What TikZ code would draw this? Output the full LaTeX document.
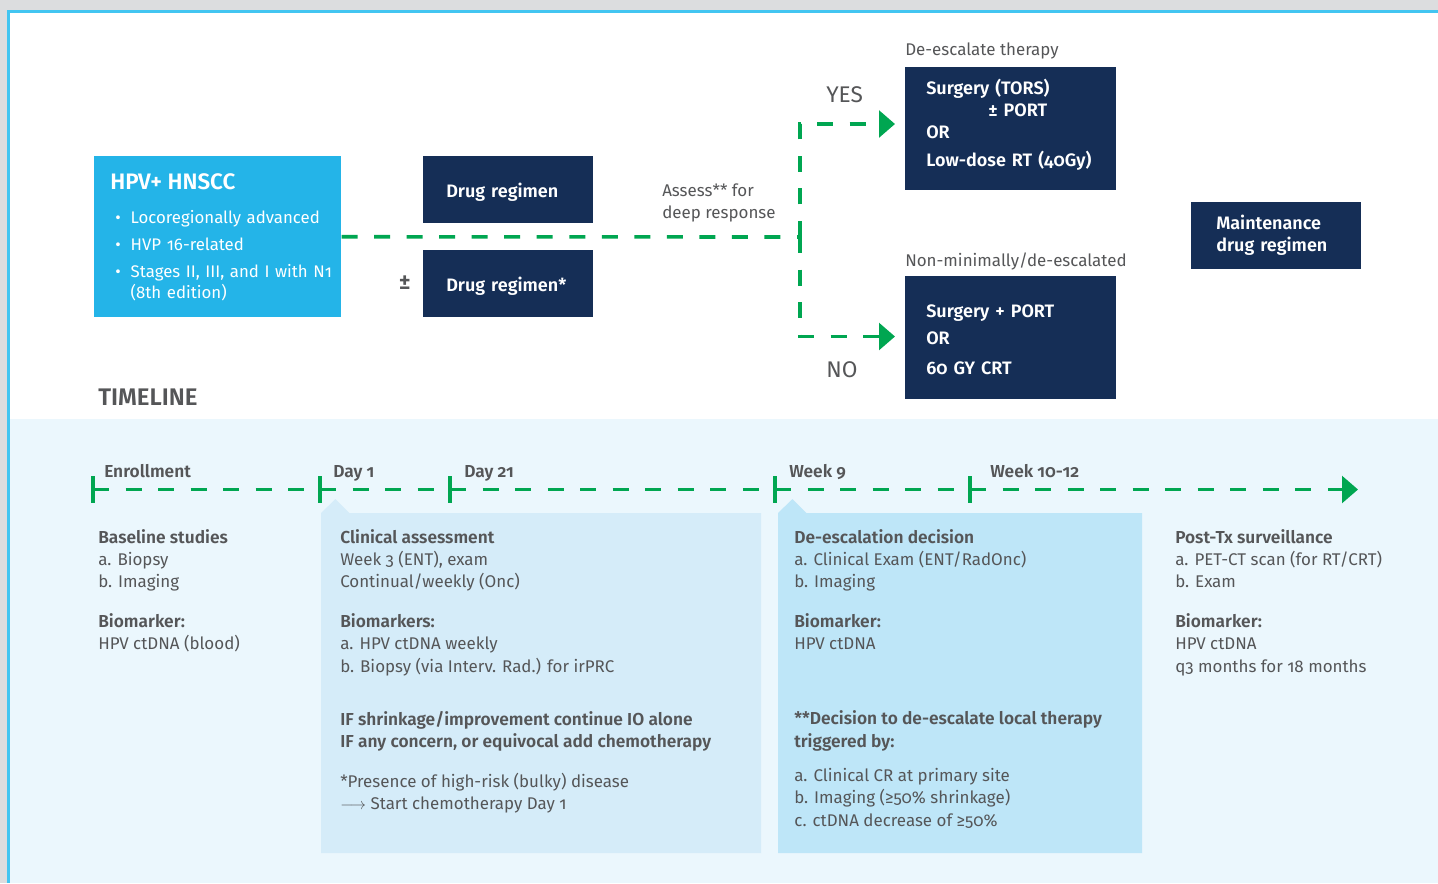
\documentclass[tikz,border=0pt]{standalone}
\usepackage{fontspec}
\setmainfont{Fira Sans}[Numbers=OldStyle, BoldFont={Fira Sans SemiBold}]
\usepackage{tikz}
\usetikzlibrary{arrows.meta,positioning}
\usepackage{xcolor}
\definecolor{hngray}{RGB}{220,221,223}
\definecolor{hnborder}{RGB}{66,197,241}
\definecolor{hncyan}{RGB}{36,180,232}
\definecolor{hnnavy}{RGB}{21,46,86}
\definecolor{hngreen}{RGB}{0,166,81}
\definecolor{hntext}{RGB}{85,86,88}
\definecolor{hnband}{RGB}{235,247,253}
\definecolor{hnpanel}{RGB}{213,236,249}
\definecolor{hnpanelb}{RGB}{190,230,248}
\newcommand{\bodysize}{\fontsize{12.7}{16.7}\selectfont}
\newcommand{\hd}[1]{{\fontsize{13}{16.7}\selectfont\bfseries #1}}
\tikzstyle{flow} = [line width=2.7pt, dash pattern=on 12pt off 12.4pt, color=hngreen]
\tikzstyle{arrow} = [flow, -{Triangle[length=12pt,width=20pt]}]
\tikzstyle{tickbar} = [line width=3pt, color=hngreen]
\tikzstyle{regimen} = [rectangle, anchor=north west, fill=hnnavy, text=white, font=\bfseries\fontsize{13.5}{16.5}\selectfont, align=left, inner ysep=0pt]
\tikzstyle{note} = [anchor=base west, inner sep=0pt, text=hntext, font=\bodysize]

\begin{document}
\begin{tikzpicture}[x=0.75pt, y=-0.75pt]
\useasboundingbox (0,0) rectangle (1438,883);
% Frame and background
\fill[hngray] (0,0) rectangle (1438,883);
\fill[hnborder] (7,9.5) rectangle (1438,883);
\fill[white] (9.5,12.5) rectangle (1438,418.5);
\fill[hnband] (9.5,418.5) rectangle (1438,883);

% Patient group
\node[rectangle, anchor=north west, fill=hncyan, text=white, text width=161.25pt, inner xsep=12pt, inner ysep=0pt, minimum height=120.75pt, align=left, font=\fontsize{12.6}{15.75}\selectfont] (hpv) at (94,156) {
\begin{tabular}{@{}l@{\hspace{7.5pt}}l@{}}
\multicolumn{2}{@{}l@{}}{\rule{0pt}{15.5pt}\bfseries\fontsize{16.8}{18}\selectfont HPV+ HNSCC}\\[9.75pt]
\hspace{3.75pt}\textbullet & Locoregionally advanced\\[4.5pt]
\hspace{3.75pt}\textbullet & HVP 16-related\\[4.5pt]
\hspace{3.75pt}\textbullet & Stages II, III, and I with N1\\
 & (8th edition)
\end{tabular}
};

% Induction
\node[regimen, text width=93pt, inner xsep=17.25pt, minimum height=50.25pt, text height=11.7pt, text depth=0pt] (drug) at (423,156) {Drug regimen};
\node[regimen, text width=93pt, inner xsep=17.25pt, minimum height=50.25pt, text height=11.7pt, text depth=0pt] (drugstar) at (423,250) {Drug regimen*};
\node[note, font=\bfseries\fontsize{17}{20}\selectfont] (pm) at (398.5,289) {±};
\node[note] (assess) at (662,196) {\begin{tabular}[t]{@{}l@{}}Assess** for\\deep response\end{tabular}};

% Local therapy
\node[note] (deeschead) at (905,55) {De-escalate therapy};
\node[regimen, text width=126.75pt, inner xsep=15.75pt, minimum height=92.25pt] (deesc) at (905,67) {
\begin{tabular}{@{}l@{}}
Surgery (TORS)\\
\hspace{46.5pt}± PORT\\
OR\\[4pt]
Low-dose RT (40Gy)\rule[-9pt]{0pt}{0pt}
\end{tabular}
};
\node[note] (stdhead) at (905,266) {Non-minimally/de-escalated};
\node[regimen, text width=126.75pt, inner xsep=15.75pt, minimum height=92.25pt, font=\bfseries\fontsize{13.5}{20.25}\selectfont] (std) at (905,276) {
\begin{tabular}{@{}l@{}}
\rule{0pt}{18.7pt}Surgery + PORT\\
OR\\[2.25pt]
60 GY CRT
\end{tabular}
};
\node[regimen, text width=90pt, inner xsep=18.75pt, minimum height=50.25pt] (maint) at (1191,202) {
\begin{tabular}{@{}l@{}}
Maintenance\\
drug regimen
\end{tabular}
};
\node[note, font=\fontsize{17}{20}\selectfont] (yes) at (826,102) {YES};
\node[note, font=\fontsize{17}{20}\selectfont] (no) at (826,377) {NO};

% Flows
\coordinate (split) at (800,237);
\coordinate (yesin) at (895,124);
\coordinate (noin) at (895,336.5);
\draw[flow] (hpv.east) -- (split);
\draw[arrow] (split) |- (yesin);
\draw[arrow] (split) |- (noin);

% Timeline
\node[note, font=\bfseries\fontsize{18}{21}\selectfont] (tltitle) at (98,405) {TIMELINE};
\fill[hnpanel] (321,853) -- (321,513) -- (335.5,499) -- (349.5,513) -- (761,513) -- (761,853) -- cycle;
\fill[hnpanelb] (778,853) -- (778,513) -- (792.5,499) -- (806.5,513) -- (1142,513) -- (1142,853) -- cycle;

\coordinate (t0) at (93,489.5);
\coordinate (t1) at (320,489.5);
\coordinate (t2) at (450,489.5);
\coordinate (t3) at (775,489.5);
\coordinate (t4) at (970,489.5);
\coordinate (tend) at (1358,489.5);
\draw[flow] (t0) -- (t1);
\draw[flow] (t1) -- (t2);
\draw[flow] (t2) -- (t3);
\draw[flow] (t3) -- (t4);
\draw[arrow] (t4) -- (tend);
\foreach \t in {t0,t1,t2,t3,t4}
  \draw[tickbar] ([yshift=10pt]\t) -- ([yshift=-10pt]\t);

\node[note, font=\bfseries\fontsize{13}{16.7}\selectfont] (enroll) at (104,477) {Enrollment};
\node[note, font=\bfseries\fontsize{13}{16.7}\selectfont] (day1) at (333,477) {Day 1};
\node[note, font=\bfseries\fontsize{13}{16.7}\selectfont] (day21) at (464,477) {Day 21};
\node[note, font=\bfseries\fontsize{13}{16.7}\selectfont] (week9) at (789,477) {Week 9};
\node[note, font=\bfseries\fontsize{13}{16.7}\selectfont] (week10) at (990,477) {Week 10-12};

% Timeline details
\node[note] (baseline) at (98,543) {\begin{tabular}[t]{@{}l@{}}
\hd{Baseline studies}\\
a. Biopsy\\
b. Imaging\\[13.3pt]
\hd{Biomarker:}\\
HPV ctDNA (blood)
\end{tabular}};
\node[note] (clinical) at (340,543) {\begin{tabular}[t]{@{}l@{}}
\hd{Clinical assessment}\\
Week 3 (ENT), exam\\
Continual/weekly (Onc)\\[13.3pt]
\hd{Biomarkers:}\\
a. HPV ctDNA weekly\\
b. Biopsy (via Interv. Rad.) for irPRC\\[23pt]
\hd{IF shrinkage/improvement continue IO alone}\\
\hd{IF any concern, or equivocal add chemotherapy}\\[13.3pt]
*Presence of high-risk (bulky) disease\\
$\longrightarrow$ Start chemotherapy Day 1
\end{tabular}};
\node[note] (decision) at (794,543) {\begin{tabular}[t]{@{}l@{}}
\hd{De-escalation decision}\\
a. Clinical Exam (ENT/RadOnc)\\
b. Imaging\\[13.3pt]
\hd{Biomarker:}\\
HPV ctDNA\\[39.5pt]
\hd{**Decision to de-escalate local therapy}\\
\hd{triggered by:}\\[9.3pt]
a. Clinical CR at primary site\\
b. Imaging (≥50\% shrinkage)\\
c. ctDNA decrease of ≥50\%
\end{tabular}};
\node[note] (posttx) at (1175,543) {\begin{tabular}[t]{@{}l@{}}
\hd{Post-Tx surveillance}\\
a. PET-CT scan (for RT/CRT)\\
b. Exam\\[13.3pt]
\hd{Biomarker:}\\
HPV ctDNA\\
q3 months for 18 months
\end{tabular}};
\end{tikzpicture}
\end{document}
